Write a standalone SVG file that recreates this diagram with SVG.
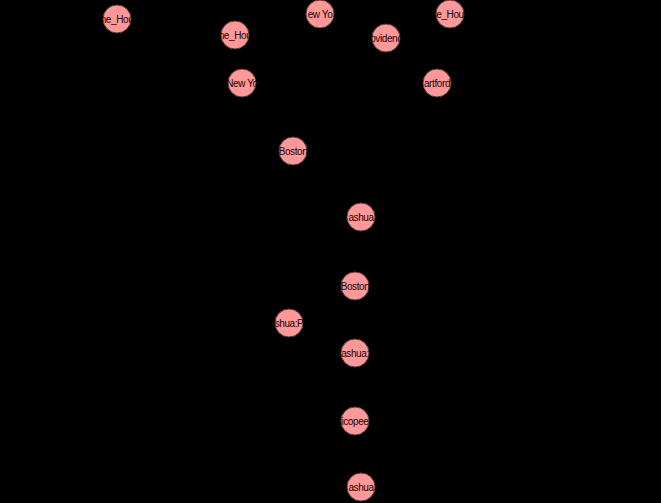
<svg xmlns="http://www.w3.org/2000/svg" width="661" height="503" viewBox="0 0 661 503">
<style>
.n circle{fill:#ff9999;stroke:#5a3c3c;stroke-width:1}
.n text{font-family:"Liberation Sans",Arial,sans-serif;font-size:10px;letter-spacing:-0.4px;fill:#220000;text-anchor:middle;dominant-baseline:central}
</style>
<defs>
<clipPath id="c1"><circle cx="117" cy="19" r="14"/></clipPath>
<clipPath id="c2"><circle cx="235" cy="35" r="14"/></clipPath>
<clipPath id="c3"><circle cx="242" cy="83" r="14"/></clipPath>
<clipPath id="c4"><circle cx="320" cy="14" r="14"/></clipPath>
<clipPath id="c5"><circle cx="386" cy="38" r="14"/></clipPath>
<clipPath id="c6"><circle cx="450" cy="14" r="14"/></clipPath>
<clipPath id="c7"><circle cx="437" cy="83" r="14"/></clipPath>
<clipPath id="c8"><circle cx="293" cy="151" r="14"/></clipPath>
<clipPath id="c9"><circle cx="361" cy="217" r="14"/></clipPath>
<clipPath id="c10"><circle cx="355" cy="286" r="14"/></clipPath>
<clipPath id="c11"><circle cx="289" cy="323" r="14"/></clipPath>
<clipPath id="c12"><circle cx="355" cy="353" r="14"/></clipPath>
<clipPath id="c13"><circle cx="355" cy="421" r="14"/></clipPath>
<clipPath id="c14"><circle cx="361" cy="487" r="14"/></clipPath>
</defs>
<rect width="661" height="503" fill="#000"/>
<g id="connectors"></g>
<g id="n1" class="n"><circle cx="117" cy="19" r="14"/><text x="117" y="19" clip-path="url(#c1)">ne_Hou</text></g>
<g id="n2" class="n"><circle cx="235" cy="35" r="14"/><text x="235" y="35" clip-path="url(#c2)">ne_Hou</text></g>
<g id="n3" class="n"><circle cx="242" cy="83" r="14"/><text x="242" y="83" clip-path="url(#c3)">New Yo</text></g>
<g id="n4" class="n"><circle cx="320" cy="14" r="14"/><text x="320" y="14" clip-path="url(#c4)">ew Yo</text></g>
<g id="n5" class="n"><circle cx="386" cy="38" r="14"/><text x="386" y="38" clip-path="url(#c5)">ovidenc</text></g>
<g id="n6" class="n"><circle cx="450" cy="14" r="14"/><text x="450" y="14" clip-path="url(#c6)">e_Hou</text></g>
<g id="n7" class="n"><circle cx="437" cy="83" r="14"/><text x="437" y="83" clip-path="url(#c7)">artford</text></g>
<g id="n8" class="n"><circle cx="293" cy="151" r="14"/><text x="293" y="151" clip-path="url(#c8)">Boston</text></g>
<g id="n9" class="n"><circle cx="361" cy="217" r="14"/><text x="361" y="217" clip-path="url(#c9)">ashua</text></g>
<g id="n10" class="n"><circle cx="355" cy="286" r="14"/><text x="355" y="286" clip-path="url(#c10)">Boston</text></g>
<g id="n11" class="n"><circle cx="289" cy="323" r="14"/><text x="289" y="323" clip-path="url(#c11)">shua:P</text></g>
<g id="n12" class="n"><circle cx="355" cy="353" r="14"/><text x="355" y="353" clip-path="url(#c12)">ashua:</text></g>
<g id="n13" class="n"><circle cx="355" cy="421" r="14"/><text x="355" y="421" clip-path="url(#c13)">icopee</text></g>
<g id="n14" class="n"><circle cx="361" cy="487" r="14"/><text x="361" y="487" clip-path="url(#c14)">ashua</text></g>
</svg>
